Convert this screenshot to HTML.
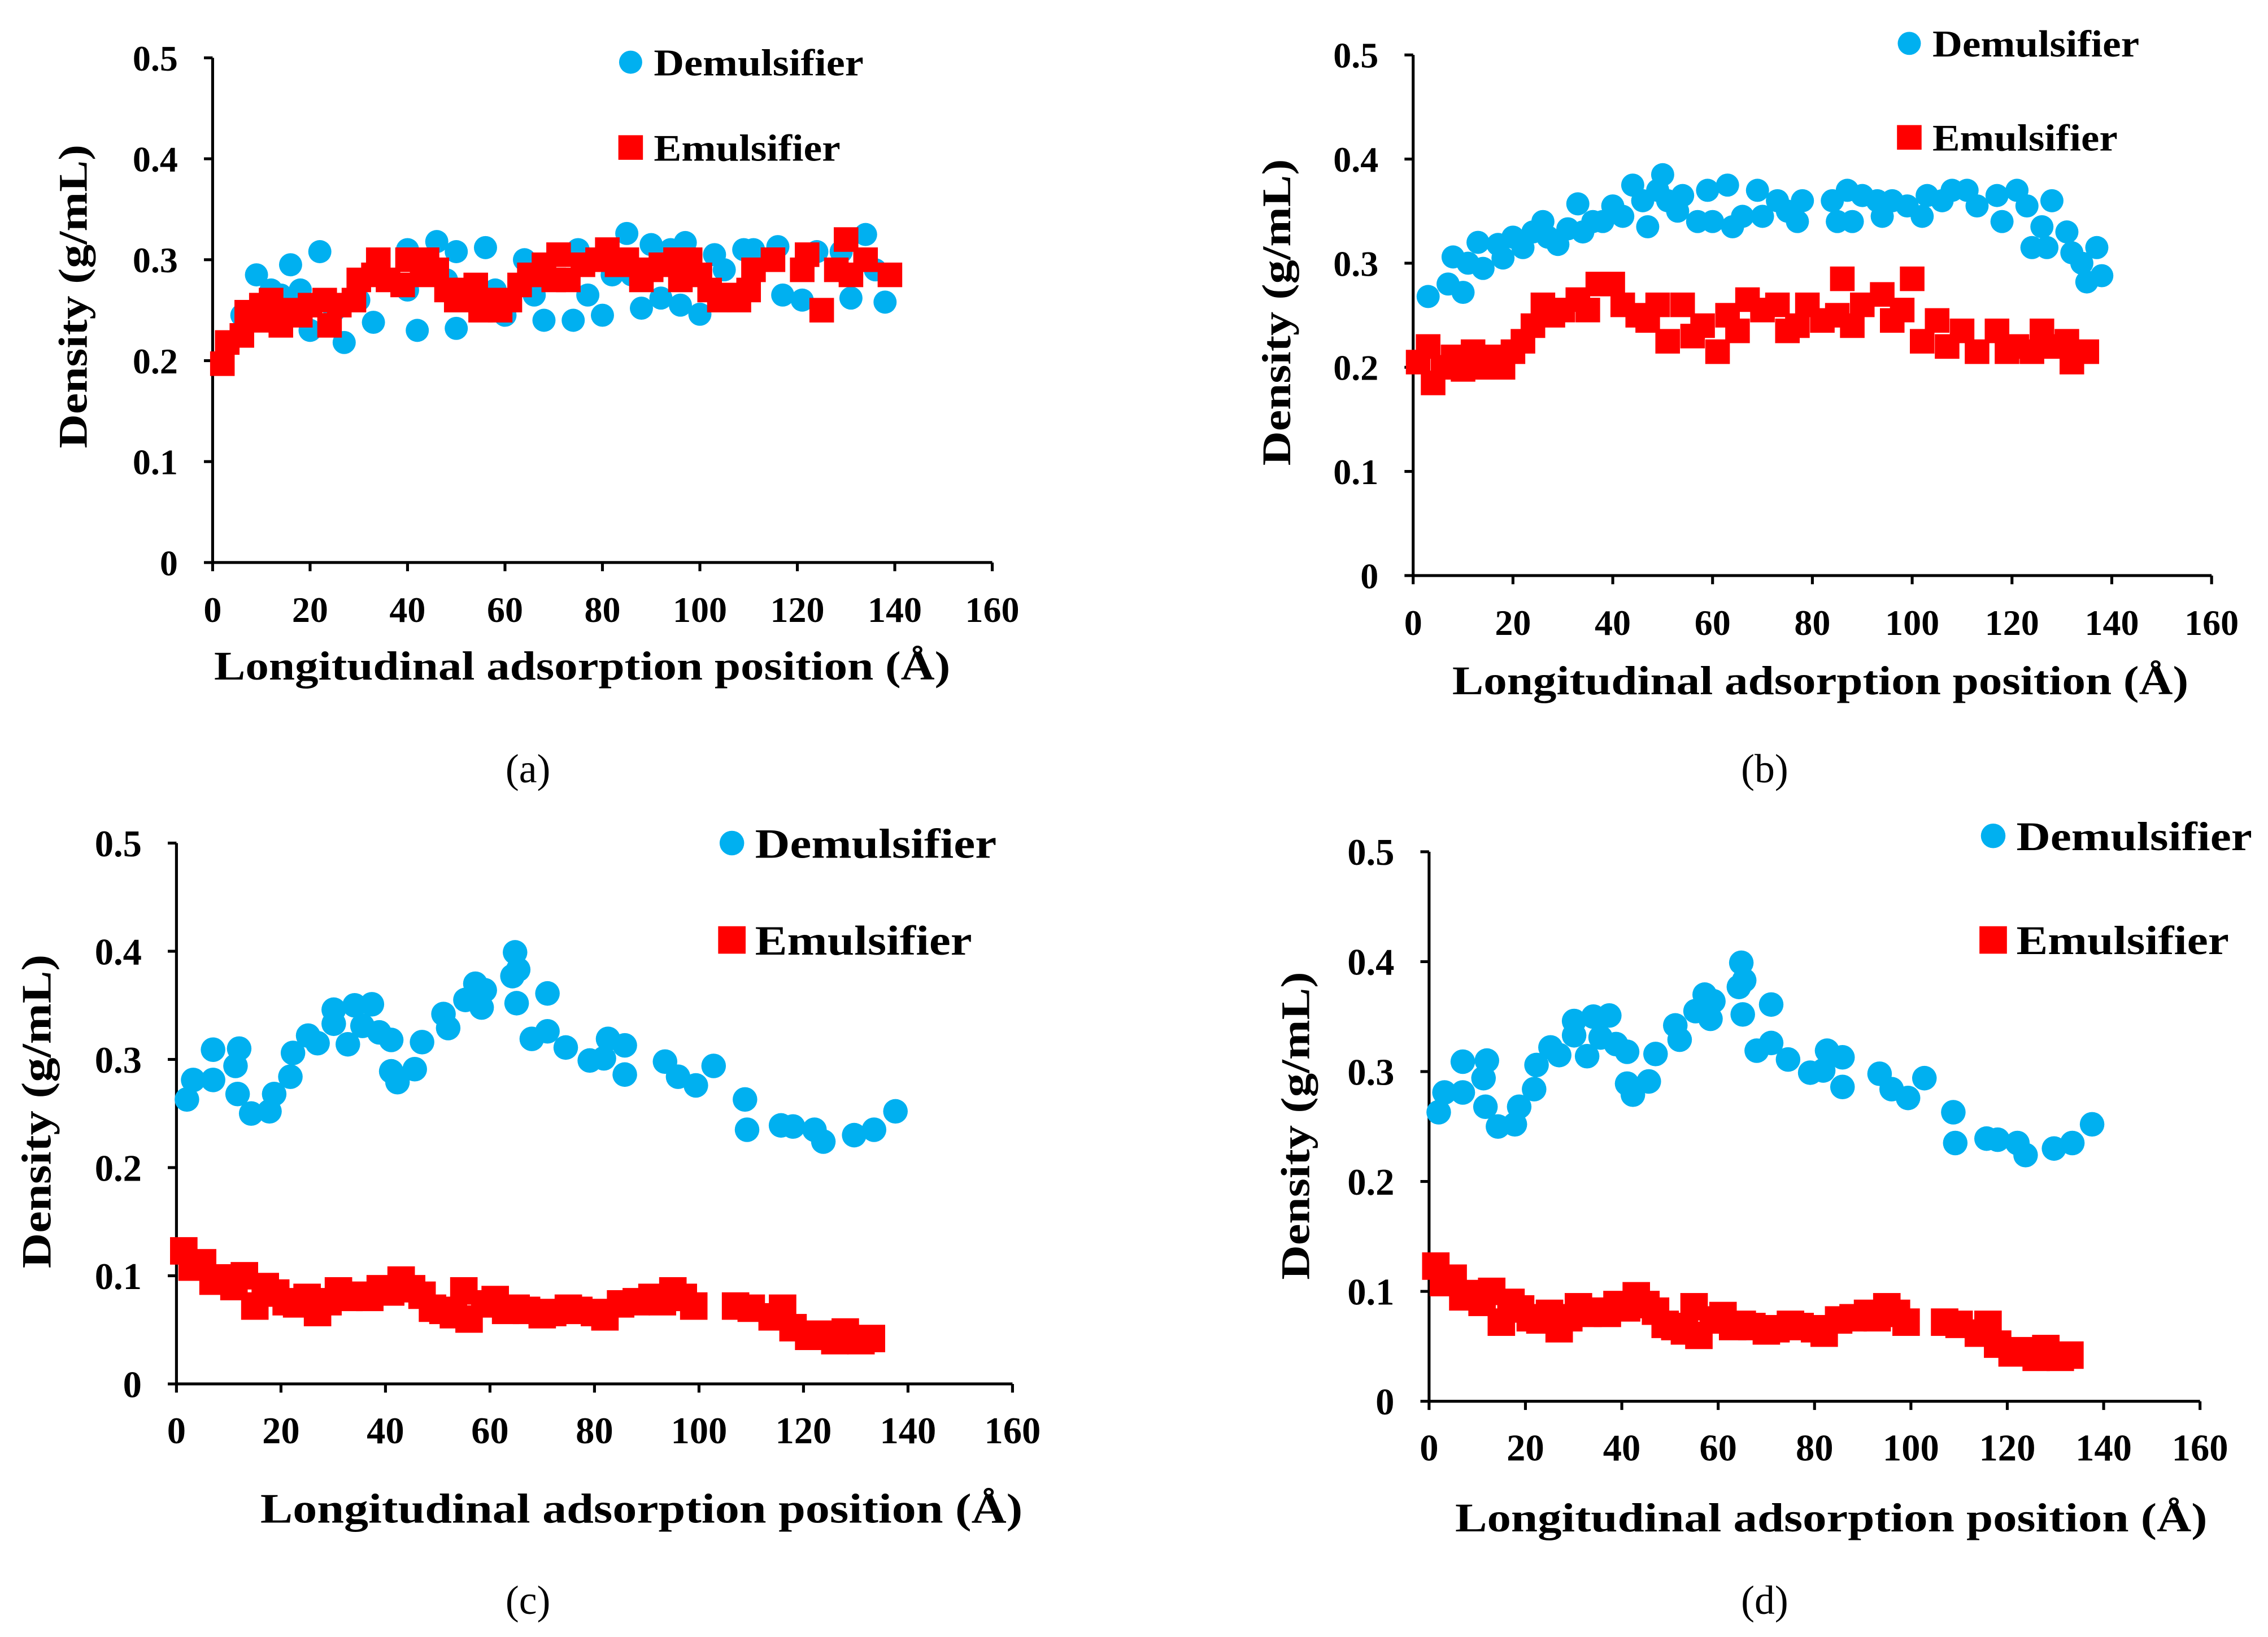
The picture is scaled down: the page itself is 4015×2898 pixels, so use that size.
<!DOCTYPE html>
<html><head><meta charset="utf-8"><style>
html,body{margin:0;padding:0;background:#fff;}
svg{display:block;}
text{font-family:"Liberation Serif",serif;fill:#000;}
</style></head><body>
<svg id="fig" width="4015" height="2898" viewBox="0 0 1568 1132" preserveAspectRatio="none" xmlns="http://www.w3.org/2000/svg"></svg>
<script>
const xTicks=[0,20,40,60,80,100,120,140,160];
const yTicks=[0,0.1,0.2,0.3,0.4,0.5];
const yTickLabels=["0","0.1","0.2","0.3","0.4","0.5"];
const demA=[[6,0.245],[9,0.285],[12,0.27],[14,0.265],[16,0.295],[18,0.27],[20,0.23],[22,0.308],[25,0.25],[27,0.218],[30,0.26],[33,0.238],[36,0.28],[40,0.31],[40,0.27],[42,0.23],[46,0.318],[48,0.28],[50,0.232],[50,0.308],[56,0.312],[58,0.27],[60,0.245],[64,0.3],[66,0.265],[68,0.24],[74,0.24],[75,0.31],[77,0.265],[80,0.245],[82,0.285],[85,0.326],[86,0.285],[88,0.252],[90,0.315],[92,0.262],[94,0.31],[96,0.255],[97,0.317],[100,0.246],[103,0.305],[105,0.29],[109,0.31],[111,0.31],[116,0.313],[117,0.265],[121,0.26],[124,0.308],[129,0.308],[131,0.262],[134,0.325],[136,0.29],[138,0.258]];
const emA=[[2,0.197],[3,0.218],[6,0.225],[7,0.248],[9,0.24],[10,0.255],[12,0.26],[13,0.245],[14,0.235],[16,0.25],[18,0.245],[20,0.255],[23,0.26],[24,0.235],[26,0.255],[29,0.26],[30,0.28],[33,0.285],[34,0.3],[36,0.28],[39,0.275],[40,0.3],[43,0.285],[44,0.3],[46,0.29],[48,0.27],[50,0.26],[52,0.27],[54,0.275],[55,0.25],[57,0.26],[59,0.25],[61,0.26],[63,0.275],[65,0.285],[68,0.295],[70,0.28],[71,0.305],[73,0.28],[76,0.295],[79,0.3],[81,0.31],[83,0.295],[85,0.3],[88,0.28],[90,0.29],[92,0.295],[95,0.3],[96,0.28],[98,0.3],[100,0.285],[102,0.27],[104,0.26],[106,0.265],[108,0.26],[110,0.27],[111,0.29],[115,0.3],[121,0.29],[122,0.305],[125,0.25],[128,0.29],[130,0.32],[131,0.285],[134,0.3],[139,0.285]];
const demB=[[3,0.268],[7,0.28],[8,0.306],[10,0.272],[11,0.3],[13,0.32],[14,0.295],[17,0.318],[18,0.305],[20,0.325],[22,0.315],[24,0.33],[26,0.34],[27,0.325],[29,0.318],[31,0.333],[33,0.357],[34,0.33],[36,0.34],[38,0.34],[40,0.355],[42,0.345],[44,0.375],[46,0.36],[47,0.335],[49,0.37],[50,0.385],[51,0.36],[53,0.35],[54,0.365],[57,0.34],[59,0.37],[60,0.34],[63,0.375],[64,0.335],[66,0.345],[69,0.37],[70,0.345],[73,0.36],[75,0.35],[77,0.34],[78,0.36],[84,0.36],[85,0.34],[87,0.37],[88,0.34],[90,0.365],[93,0.36],[94,0.345],[96,0.36],[99,0.355],[102,0.345],[103,0.365],[106,0.36],[108,0.37],[111,0.37],[113,0.355],[117,0.365],[118,0.34],[121,0.37],[123,0.355],[124,0.315],[126,0.335],[127,0.315],[128,0.36],[131,0.33],[132,0.31],[134,0.3],[135,0.282],[137,0.315],[138,0.288]];
const emB=[[1,0.205],[3,0.22],[4,0.185],[6,0.2],[8,0.21],[10,0.198],[12,0.215],[14,0.2],[16,0.21],[18,0.2],[20,0.215],[22,0.225],[24,0.24],[26,0.26],[28,0.25],[30,0.255],[33,0.265],[35,0.255],[37,0.28],[40,0.28],[42,0.26],[45,0.25],[47,0.245],[49,0.26],[51,0.225],[54,0.26],[56,0.23],[58,0.24],[61,0.215],[63,0.25],[65,0.235],[67,0.265],[70,0.255],[73,0.26],[75,0.235],[77,0.24],[79,0.26],[82,0.245],[85,0.25],[86,0.285],[88,0.24],[90,0.26],[94,0.27],[96,0.245],[98,0.255],[100,0.285],[102,0.225],[105,0.245],[107,0.22],[110,0.235],[113,0.215],[117,0.235],[119,0.215],[121,0.22],[124,0.215],[126,0.235],[128,0.22],[131,0.225],[132,0.205],[135,0.215]];
const demC=[[2,0.263],[3.2,0.281],[7,0.309],[7,0.281],[11.3,0.294],[12,0.31],[11.7,0.268],[14.3,0.25],[17.8,0.252],[18.7,0.268],[21.8,0.284],[22.3,0.306],[25.2,0.322],[27,0.315],[30.1,0.333],[30.1,0.346],[32.8,0.314],[34.1,0.35],[35.6,0.331],[37.4,0.351],[38.8,0.325],[41.1,0.318],[41.1,0.289],[42.3,0.279],[45.6,0.291],[47,0.316],[51.1,0.342],[52,0.329],[55.3,0.355],[57.2,0.37],[58.4,0.348],[59,0.364],[64.3,0.377],[64.8,0.399],[65.4,0.383],[65.1,0.352],[68,0.319],[71,0.361],[71,0.326],[74.5,0.311],[79.1,0.299],[81.8,0.301],[82.6,0.319],[85.8,0.313],[85.8,0.286],[93.5,0.298],[96,0.284],[99.4,0.276],[102.8,0.294],[108.8,0.263],[109.2,0.235],[115.7,0.239],[118,0.238],[122.1,0.235],[123.8,0.224],[129.7,0.23],[133.5,0.235],[137.6,0.252]];
const emC=[[1.4,0.123],[3,0.108],[5,0.112],[7,0.095],[9,0.098],[11,0.09],[13,0.1],[15,0.072],[17,0.09],[19,0.084],[21,0.076],[23,0.074],[25,0.08],[27,0.066],[29,0.076],[31,0.086],[33,0.08],[35,0.082],[37,0.08],[39,0.088],[41,0.085],[43,0.096],[45,0.088],[47,0.082],[49,0.07],[51,0.068],[53,0.064],[55,0.086],[56,0.06],[59,0.074],[61,0.078],[63,0.068],[65,0.07],[67,0.068],[70,0.064],[72,0.066],[75,0.07],[77,0.068],[80,0.066],[82,0.062],[85,0.074],[88,0.076],[91,0.08],[93,0.076],[95,0.086],[97,0.08],[99,0.072],[107,0.072],[110,0.07],[114,0.062],[116,0.07],[118,0.052],[121,0.044],[123,0.046],[126,0.04],[128,0.048],[131,0.04],[133,0.042]];
const demD=demC, emD=emC;

const svg=document.getElementById('fig');
const NS='http://www.w3.org/2000/svg';
function mk(tag,attrs,parent,txt){const e=document.createElementNS(NS,tag);for(const k in attrs)e.setAttribute(k,attrs[k]);if(txt!==undefined)e.textContent=txt;(parent||svg).appendChild(e);return e;}

const panels=[
 {id:'a',x0:147,x1:686,y0:389,y1:40,dem:demA,em:emA,fs:25,xl:[148,657,470,28],yl:[50,100,310],leg:[436,43,102,26,145,129],cap:[365,541],r:8,sq:17},
 {id:'b',x0:977,x1:1529,y0:398,y1:38,dem:demB,em:emB,fs:25,xl:[1004,1513,480,28],yl:[882,110,322],leg:[1320,30,95,26,143,128],cap:[1220,541],r:8,sq:17},
 {id:'c',x0:122,x1:700,y0:957,y1:583,dem:demC,em:emC,fs:26,xl:[180,707,1053,29],yl:[25,660,877],leg:[506,583,650,29,167,150],cap:[365,1116],r:8.5,sq:19},
 {id:'d',x0:988,x1:1521,y0:969,y1:589,dem:demD,em:emD,fs:26,xl:[1006,1526,1059,28],yl:[895,672,885],leg:[1378,578,650,28,163,147],cap:[1220,1116],r:8.5,sq:19}
];
panels.forEach(p=>{
 const g=mk('g',{});
 
 
 const X=v=>p.x0+(p.x1-p.x0)*v/160;
 const Y=v=>p.y0+(p.y1-p.y0)*v/0.5;
 const ax=mk('g',{},g);
 
 
 mk('line',{x1:p.x0,y1:p.y0,x2:p.x0,y2:p.y1,stroke:'#000','stroke-width':2},ax);
 mk('line',{x1:p.x0,y1:p.y0,x2:p.x1,y2:p.y0,stroke:'#000','stroke-width':2},ax);
 xTicks.forEach(t=>{
  mk('line',{x1:X(t),y1:p.y0,x2:X(t),y2:p.y0+6,stroke:'#000','stroke-width':2},ax);
  const l=mk('text',{x:X(t),y:p.y0+41,'text-anchor':'middle','font-size':p.fs,'font-weight':'bold'},ax,String(t));
  
  
 });
 yTicks.forEach((t,i)=>{
  mk('line',{x1:p.x0-6,y1:Y(t),x2:p.x0,y2:Y(t),stroke:'#000','stroke-width':2},ax);
  const l=mk('text',{x:p.x0-24,y:Y(t)+p.fs*0.35,'text-anchor':'end','font-size':p.fs,'font-weight':'bold'},ax,yTickLabels[i]);
  
  
 });
 const xt=mk('text',{x:p.xl[0],y:p.xl[2],'font-size':p.xl[3],'font-weight':'bold',textLength:p.xl[1]-p.xl[0],lengthAdjust:'spacingAndGlyphs'},g,'Longitudinal adsorption position (Å)');
 
 
 const yx=p.yl[0], ybot=p.yl[2];
 const yt=mk('text',{x:yx,y:ybot,'font-size':p.xl[3],'font-weight':'bold',transform:`rotate(-90 ${yx} ${ybot})`,dy:10,textLength:p.yl[2]-p.yl[1],lengthAdjust:'spacingAndGlyphs'},g,'Density (g/mL)');
 
 
 const s1=mk('g',{},g);
 
 
 p.dem.forEach(d=>{
  const c=mk('circle',{cx:X(d[0]),cy:Y(d[1]),r:p.r,fill:'#00b0f0'},s1);
  
  
 });
 const s2=mk('g',{},g);
 
 
 p.em.forEach(d=>{
  const r=mk('rect',{x:X(d[0])-p.sq/2,y:Y(d[1])-p.sq/2,width:p.sq,height:p.sq,fill:'#ff0000'},s2);
  
  
 });
 const lg=mk('g',{},g);
 
 
 const L=p.leg;
 const e1=mk('g',{},lg);
 
 
 mk('circle',{cx:L[0],cy:L[1],r:p.r,fill:'#00b0f0'},e1);
 mk('text',{x:L[0]+16,y:L[1]+L[3]*0.35,'font-size':L[3],'font-weight':'bold',textLength:L[4],lengthAdjust:'spacingAndGlyphs'},e1,'Demulsifier');
 const e2=mk('g',{},lg);
 
 
 mk('rect',{x:L[0]-p.sq/2,y:L[2]-p.sq/2,width:p.sq,height:p.sq,fill:'#ff0000'},e2);
 mk('text',{x:L[0]+16,y:L[2]+L[3]*0.35,'font-size':L[3],'font-weight':'bold',textLength:L[5],lengthAdjust:'spacingAndGlyphs'},e2,'Emulsifier');
 const cp=mk('text',{x:p.cap[0],y:p.cap[1],'text-anchor':'middle','font-size':28},g,'('+p.id+')');
 
 
});
</script>
</body></html>
